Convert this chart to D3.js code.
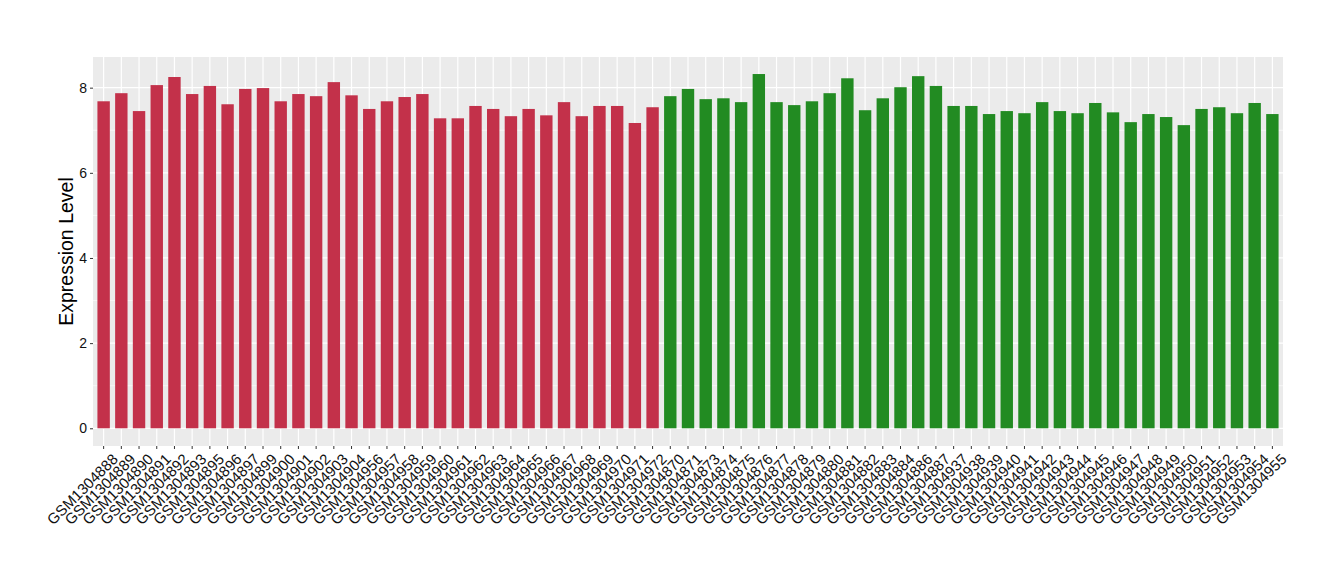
<!DOCTYPE html>
<html>
<head>
<meta charset="utf-8">
<script src="https://cdn.jsdelivr.net/npm/d3@7"></script>
<style>
  body { margin: 0; background: #fff; }
  text { font-family: "Liberation Sans", Arial, sans-serif; }
</style>
</head>
<body>
<svg width="1340" height="580"></svg>
<script>
// sample ids, first group (red)
var groupA = ["GSM1304888","GSM1304889","GSM1304890","GSM1304891","GSM1304892","GSM1304893",
  "GSM1304895","GSM1304896","GSM1304897","GSM1304899","GSM1304900","GSM1304901","GSM1304902",
  "GSM1304903","GSM1304904","GSM1304956","GSM1304957","GSM1304958","GSM1304959","GSM1304960",
  "GSM1304961","GSM1304962","GSM1304963","GSM1304964","GSM1304965","GSM1304966","GSM1304967",
  "GSM1304968","GSM1304969","GSM1304970","GSM1304971","GSM1304972"];
var valuesA = [7.68,7.87,7.45,8.06,8.25,7.85,8.04,7.61,7.97,7.99,7.68,7.85,7.80,8.13,7.82,
  7.50,7.68,7.78,7.85,7.28,7.28,7.57,7.50,7.33,7.50,7.35,7.66,7.33,7.57,7.57,7.17,7.54];

// second group (green)
var groupB = ["GSM1304870","GSM1304871","GSM1304873","GSM1304874","GSM1304875","GSM1304876",
  "GSM1304877","GSM1304878","GSM1304879","GSM1304880","GSM1304881","GSM1304882","GSM1304883",
  "GSM1304884","GSM1304886","GSM1304887","GSM1304937","GSM1304938","GSM1304939","GSM1304940",
  "GSM1304941","GSM1304942","GSM1304943","GSM1304944","GSM1304945","GSM1304946","GSM1304947",
  "GSM1304948","GSM1304949","GSM1304950","GSM1304951","GSM1304952","GSM1304953","GSM1304954",
  "GSM1304955"];
var valuesB = [7.80,7.97,7.73,7.75,7.66,8.32,7.66,7.59,7.68,7.87,8.22,7.47,7.75,8.01,8.27,8.04,
  7.57,7.57,7.38,7.45,7.40,7.66,7.45,7.40,7.64,7.42,7.19,7.38,7.31,7.12,7.50,7.54,7.40,7.64,7.38];

var yTicks = [0, 2, 4, 6, 8];
var yMinor = [1, 3, 5, 7];
var colorA = "#c3314a", colorB = "#228b22";

var data = [];
groupA.forEach(function(s, i) { data.push({id: s, value: valuesA[i], color: colorA}); });
groupB.forEach(function(s, i) { data.push({id: s, value: valuesB[i], color: colorB}); });

var svg = d3.select("svg");
var margin = {left: 93, right: 1283, top: 57, bottom: 446};

var x = d3.scaleBand()
    .domain(data.map(function(d) { return d.id; }))
    .range([margin.left, margin.right])
    .paddingInner(0.3)
    .paddingOuter(0.25);

var y = d3.scaleLinear()
    .domain([-0.416, 8.72])
    .range([margin.bottom, margin.top]);

// panel
svg.append("rect")
    .attr("x", margin.left).attr("y", margin.top)
    .attr("width", margin.right - margin.left).attr("height", margin.bottom - margin.top)
    .attr("fill", "#ebebeb");

svg.append("g").selectAll("line")
    .data(yMinor).enter().append("line")
    .attr("x1", margin.left).attr("x2", margin.right)
    .attr("y1", function(d) { return y(d); })
    .attr("y2", function(d) { return y(d); })
    .attr("stroke", "#fff").attr("stroke-width", 0.6);

svg.append("g").selectAll("line")
    .data(yTicks).enter().append("line")
    .attr("x1", margin.left).attr("x2", margin.right)
    .attr("y1", function(d) { return y(d); })
    .attr("y2", function(d) { return y(d); })
    .attr("stroke", "#fff").attr("stroke-width", 1.2);

svg.append("g").selectAll("line")
    .data(data).enter().append("line")
    .attr("x1", function(d) { return x(d.id) + x.bandwidth() / 2; })
    .attr("x2", function(d) { return x(d.id) + x.bandwidth() / 2; })
    .attr("y1", margin.top).attr("y2", margin.bottom)
    .attr("stroke", "#fff").attr("stroke-width", 1.2);

// bars
svg.append("g").selectAll("rect")
    .data(data).enter().append("rect")
    .attr("x", function(d) { return x(d.id); })
    .attr("width", x.bandwidth())
    .attr("y", function(d) { return y(d.value); })
    .attr("height", function(d) { return y(0) - y(d.value); })
    .attr("fill", function(d) { return d.color; });

// y axis
var yAxis = svg.append("g")
    .attr("transform", "translate(" + margin.left + ",0)")
    .call(d3.axisLeft(y).tickValues(yTicks).tickSize(3).tickPadding(3).tickFormat(d3.format("d")));
yAxis.select(".domain").remove();
yAxis.selectAll(".tick line").attr("stroke", "#333");
yAxis.selectAll("text")
    .style("font-size", "14px").style("fill", "#111")
    .style("font-family", "Liberation Sans, Arial, sans-serif");

// x axis
var xAxis = svg.append("g")
    .attr("transform", "translate(0," + margin.bottom + ")")
    .call(d3.axisBottom(x).tickSize(3).tickPadding(2));
xAxis.select(".domain").remove();
xAxis.selectAll(".tick line").attr("stroke", "#333");
xAxis.selectAll("text")
    .style("font-size", "15px").style("fill", "#111")
    .style("font-family", "Liberation Sans, Arial, sans-serif")
    .attr("text-anchor", "end")
    .attr("dy", "0.72em")
    .attr("transform", "translate(4,3) rotate(-45)");

// y title
svg.append("text")
    .attr("transform", "translate(73," + ((margin.top + margin.bottom) / 2) + ") rotate(-90)")
    .attr("text-anchor", "middle")
    .style("font-size", "19.5px")
    .style("fill", "#000")
    .text("Expression Level");
</script>
</body>
</html>
